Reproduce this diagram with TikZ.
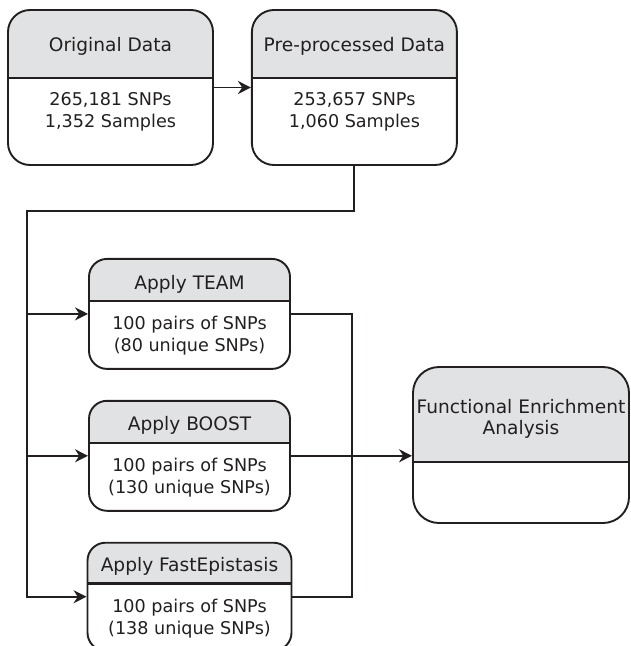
\documentclass[tikz,border=0pt]{standalone}
\usepackage{fontspec}
\setmainfont{DejaVu Sans}
\usepackage{xcolor}
\usetikzlibrary{arrows.meta,positioning,calc}

\definecolor{headgray}{RGB}{225,226,228}
\definecolor{inkgray}{RGB}{35,31,32}

\begin{document}
\begin{tikzpicture}[
    x=1pt, y=1pt,
    node distance=30pt,
    stage/.style={rectangle, draw=inkgray, line width=1.9pt, rounded corners=18pt,
        minimum width=201pt, minimum height=110pt, inner sep=0pt,
        path picture={
            \fill[headgray, sharp corners] (path picture bounding box.north west)
                rectangle ([yshift=-#1]path picture bounding box.north east);
            \draw[inkgray, line width=2.6pt, sharp corners] ([yshift=-#1]path picture bounding box.north west)
                -- ([yshift=-#1]path picture bounding box.north east);}},
    headtext/.style={font=\fontsize{18.6}{21}\selectfont, align=center, inner sep=0pt, text=inkgray},
    bodytext/.style={font=\fontsize{17.6}{22}\selectfont, align=center, inner sep=0pt, anchor=north, text=inkgray},
    wire/.style={draw=inkgray, line width=1.9pt},
    arrow/.style={wire, -{Stealth[length=13pt, width=13pt]}}
]
    \useasboundingbox (0,0) rectangle (630,-646);

    \node[stage=68pt, rounded corners=22pt, minimum width=205pt, minimum height=155pt] (orig) at (110.5,-87.5) {};
    \node[stage=68pt, rounded corners=22pt, minimum width=205pt, minimum height=155pt, right=37pt of orig] (pre) {};
    \node[stage=42pt, below right=92pt and 81pt of orig.south west] (team) {};
    \node[stage=42pt, below=30pt of team] (boost) {};
    \node[stage=41pt, minimum width=204pt, minimum height=108pt, below=30pt of boost] (fast) {};
    \node[stage=95pt, rounded corners=26pt, minimum width=216pt, minimum height=156pt] (func) at (521,-445) {};

    \node[headtext] (origh) at ([yshift=-37pt]orig.north) {Original Data};
    \node[bodytext] (origb) at ([yshift=-83pt]orig.north) {265,181 SNPs\\1,352 Samples};
    \node[headtext] (preh) at ([yshift=-37pt]pre.north) {Pre-processed Data};
    \node[bodytext] (preb) at ([yshift=-83pt]pre.north) {253,657 SNPs\\1,060 Samples};
    \node[headtext] (teamh) at ([yshift=-26pt]team.north) {Apply TEAM};
    \node[bodytext] (teamb) at ([yshift=-58pt]team.north) {100 pairs of SNPs\\(80 unique SNPs)};
    \node[headtext] (boosth) at ([yshift=-26pt]boost.north) {Apply BOOST};
    \node[bodytext] (boostb) at ([yshift=-58pt]boost.north) {100 pairs of SNPs\\(130 unique SNPs)};
    \node[headtext] (fasth) at ([yshift=-25pt]fast.north) {Apply FastEpistasis};
    \node[bodytext] (fastb) at ([yshift=-57pt]fast.north) {100 pairs of SNPs\\(138 unique SNPs)};
    \node[headtext] (funch) at ([yshift=-53pt]func.north) {Functional Enrichment\\Analysis};

    \coordinate (split) at (27,-211);
    \coordinate (join) at (352,-452);

    \draw[arrow] (orig) -- (pre);
    \draw[arrow] (pre.south) |- (split) |- (fast.west);
    \draw[arrow] (split |- team.west) -- (team.west);
    \draw[arrow] (split |- boost.west) -- (boost.west);
    \draw[wire] (team.east) -| (join |- fast.east) -- (fast.east);
    \draw[arrow] (boost.east) -- (boost.east -| func.west);
\end{tikzpicture}
\end{document}
